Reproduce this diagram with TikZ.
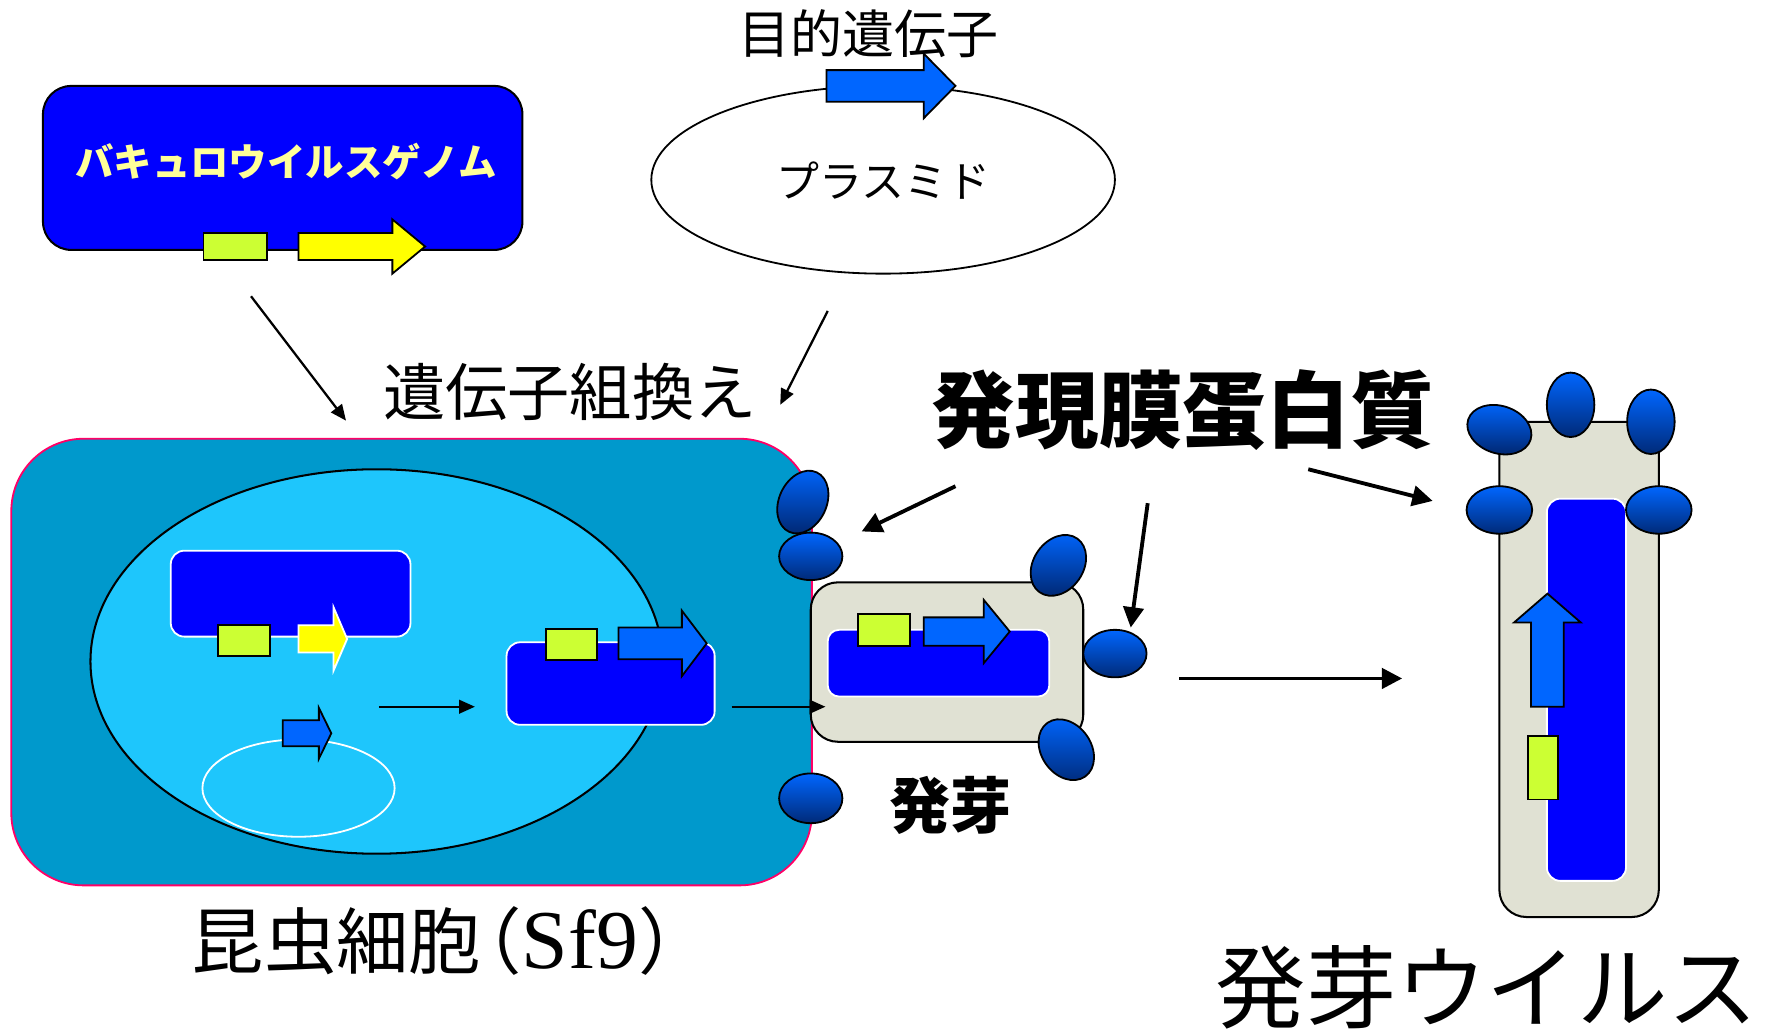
\documentclass[tikz,border=0pt]{standalone}
\usepackage{fontspec}
\setmainfont{Noto Sans CJK JP}
\newfontfamily\serifL{Liberation Serif}
\usetikzlibrary{arrows.meta,shapes.geometric}

\definecolor{cellbg}{HTML}{0099CC}
\definecolor{cellrim}{HTML}{FF0066}
\definecolor{nucbg}{RGB}{30,198,252}
\definecolor{dnablue}{HTML}{0000FF}
\definecolor{promoter}{HTML}{CCFF33}
\definecolor{genelight}{HTML}{FFFF00}
\definecolor{genetarget}{HTML}{0066FF}
\definecolor{virusbg}{RGB}{224,225,211}
\definecolor{labelyellow}{HTML}{FFFF99}
\definecolor{protop}{HTML}{0066FF}
\definecolor{probot}{HTML}{002A78}

% block arrow pointing right: fill, outline, x start, x head, x tip, y middle, body half height, head half height
\newcommand\genearrow[8]{%
  \filldraw[fill=#1,draw=#2,line width=0.8pt,line join=miter]
    (#3,#6-#7) -- (#4,#6-#7) -- (#4,#6-#8) -- (#5,#6) -- (#4,#6+#8) -- (#4,#6+#7) -- (#3,#6+#7) -- cycle;}

\tikzset{
  wh/.style 2 args={minimum width=#1*0.5pt, minimum height=#2*0.5pt},
  dnabox/.style={rectangle, rounded corners=6pt, fill=dnablue, draw=white, line width=0.8pt, inner sep=0pt},
  virusbody/.style={rectangle, rounded corners=12pt, fill=virusbg, draw=black, line width=0.9pt, inner sep=0pt},
  promobox/.style={fill=promoter, draw=black, line width=0.8pt},
  prot/.style={ellipse, draw=black, line width=0.8pt, top color=protop, bottom color=probot, inner sep=0pt},
  thin arrow/.style={line width=1pt, -{Triangle[length=7pt,width=6pt]}},
  thick arrow/.style={line width=1.7pt, -{Triangle[length=9pt,width=9pt]}},
}

\begin{document}
\begin{tikzpicture}[x=0.5pt,y=-0.5pt]
\useasboundingbox (0,0) rectangle (1568,911);

% ---------- baculovirus genome ----------
\node[rectangle, rounded corners=12.5pt, fill=dnablue, draw=black, line width=0.9pt, wh={424}{145}] (genome) at (250,148.5) {};
\node[text=labelyellow, font=\bfseries\fontsize{17pt}{20pt}\selectfont] (genomelabel) at (253,143) {バキュロウイルスゲノム};
\filldraw[promobox] (180,206) rectangle (236,230);
\genearrow{genelight}{black}{264}{347}{376}{218}{12}{24}

% ---------- plasmid ----------
\node[ellipse, draw=black, line width=0.8pt, fill=white, wh={410}{166}] (plasmid) at (781,159) {};
\node[font=\fontsize{19pt}{22pt}\selectfont] (plasmidlabel) at (781,160) {プラスミド};
\genearrow{genetarget}{black}{731}{817}{845}{76}{14}{28.5}
\node[font=\fontsize{23pt}{26pt}\selectfont] (targetlabel) at (768,30) {目的遺伝子};

% ---------- recombination ----------
\node[font=\fontsize{27.5pt}{30pt}\selectfont] (recomb) at (504,347) {遺伝子組換え};
\coordinate (a1s) at (222,262); \coordinate (a1e) at (306,372);
\coordinate (a2s) at (732,275); \coordinate (a2e) at (690,358);
\draw[thin arrow] (a1s) -- (a1e);
\draw[thin arrow] (a2s) -- (a2e);

% ---------- insect cell ----------
\node[rectangle, rounded corners=32pt, fill=cellbg, draw=cellrim, line width=0.8pt, wh={708}{395}] (cell) at (364,585.5) {};
\node[ellipse, fill=nucbg, draw=black, line width=0.9pt, wh={506}{340}] (nucleus) at (333,585) {};

% genome and plasmid inside the nucleus
\node[dnabox, wh={212}{76}] (ngenome) at (257,525) {};
\filldraw[promobox] (193,553) rectangle (239,580);
\genearrow{genelight}{white}{264}{295}{307}{565}{12}{28}
\node[ellipse, draw=white, line width=0.8pt, wh={170}{86}] (nplasmid) at (264,697) {};
\genearrow{genetarget}{black}{250}{282}{293}{648.5}{11.5}{22.5}

% recombinant genome
\coordinate (a3s) at (335,625); \coordinate (a3e) at (420,625);
\draw[thin arrow] (a3s) -- (a3e);
\node[dnabox, wh={184}{73}] (rgenome) at (540,604.5) {};
\filldraw[promobox] (483,556) rectangle (528,584);
\genearrow{genetarget}{black}{547}{603}{625}{569}{14}{29}

% ---------- budding virus ----------
\node[virusbody, wh={241}{141}] (bud) at (837.5,585.5) {};
\node[dnabox, rounded corners=5pt, wh={196}{59}] (budgenome) at (830,586.5) {};
\filldraw[promobox] (759,543) rectangle (805,571);
\genearrow{genetarget}{black}{817}{870}{893}{558.5}{12.5}{28}
\coordinate (a4s) at (647,625); \coordinate (a4e) at (730,625);
\draw[thin arrow] (a4s) -- (a4e);

% membrane proteins on the cell and on the bud
\node[prot, wh={42}{58}, rotate=-25] (p1) at (710,444) {};
\node[prot, wh={56}{42}] (p2) at (717,492) {};
\node[prot, wh={56}{44}] (p3) at (717,706) {};
\node[prot, wh={44}{58}, rotate=-35] (p4) at (936,500) {};
\node[prot, wh={56}{42}] (p5) at (986,578) {};
\node[prot, wh={44}{58}, rotate=35] (p6) at (943,663) {};

\node[font=\bfseries\fontsize{27pt}{30pt}\selectfont] (budlabel) at (841,712) {発芽};

% ---------- expressed membrane protein ----------
\node[font=\bfseries\fontsize{37pt}{40pt}\selectfont] (memprot) at (1046,363) {発現膜蛋白質};
\coordinate (a5s) at (845,430); \coordinate (a5e) at (762,470);
\coordinate (a6s) at (1015,445); \coordinate (a6e) at (1000,555);
\coordinate (a7s) at (1157,415); \coordinate (a7e) at (1267,443);
\coordinate (a8s) at (1043,600); \coordinate (a8e) at (1240,600);
\draw[thick arrow] (a5s) -- (a5e);
\draw[thick arrow] (a6s) -- (a6e);
\draw[thick arrow] (a7s) -- (a7e);
\draw[thick arrow] (a8s) -- (a8e);

% ---------- budded virus ----------
\node[virusbody, wh={141}{438}] (virus) at (1396.5,592) {};
\node[dnabox, wh={70}{338}] (vgenome) at (1403,610) {};
\filldraw[fill=genetarget, draw=black, line width=0.8pt, line join=miter]
  (1354,625) -- (1354,550.5) -- (1339,550.5) -- (1368.5,525) -- (1398,550.5) -- (1383,550.5) -- (1383,625) -- cycle;
\filldraw[promobox] (1351,651) rectangle (1378,707);
\node[prot, wh={58}{42}, rotate=-18] (v1) at (1326,380) {};
\node[prot, wh={42}{57}] (v2) at (1389,358) {};
\node[prot, wh={42}{57}] (v3) at (1460,373) {};
\node[prot, wh={58}{42}] (v4) at (1326,451) {};
\node[prot, wh={58}{42}] (v5) at (1467,451) {};

% ---------- captions ----------
\node[font=\fontsize{32pt}{36pt}\selectfont] (celllabel) at (399,832) {昆虫細胞\kern-0.44em（{\serifL\fontsize{37pt}{40pt}\selectfont Sf9}）};
\node[font=\fontsize{40pt}{44pt}\selectfont] (viruslabel) at (1315,873) {発芽ウイルス};
\end{tikzpicture}
\end{document}
